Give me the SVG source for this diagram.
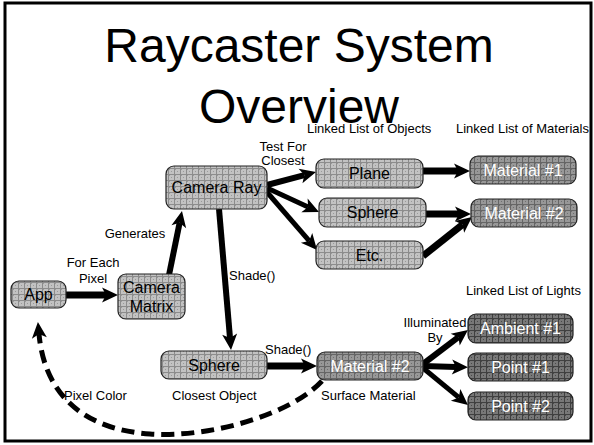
<svg xmlns="http://www.w3.org/2000/svg" width="594" height="445" viewBox="0 0 594 445">
<defs>
<pattern id="pL" width="6" height="6" patternUnits="userSpaceOnUse">
<rect width="6" height="6" fill="#c2c2c2"/>
<rect x="1" y="1" width="1" height="1" fill="#9a9a9a"/><rect x="3" y="3" width="1" height="1" fill="#9a9a9a"/>
<path d="M0,0.5H6M0.5,0V6" stroke="#8c8c8c" stroke-width="1"/>
</pattern>
<pattern id="pM" width="6" height="6" patternUnits="userSpaceOnUse">
<rect width="6" height="6" fill="#989898"/>
<rect x="1" y="1" width="1" height="1" fill="#707070"/><rect x="3" y="3" width="1" height="1" fill="#707070"/>
<path d="M0,0.5H6M0.5,0V6" stroke="#666" stroke-width="1"/>
</pattern>
<pattern id="pD" width="6" height="6" patternUnits="userSpaceOnUse">
<rect width="6" height="6" fill="#787878"/>
<rect x="1" y="1" width="1" height="1" fill="#4a4a4a"/><rect x="3" y="3" width="1" height="1" fill="#4a4a4a"/>
<path d="M0,0.5H6M0.5,0V6" stroke="#404040" stroke-width="1"/>
</pattern>
<marker id="ah" markerUnits="userSpaceOnUse" markerWidth="30" markerHeight="30" viewBox="-10 -15 30 30" refX="0" refY="0" orient="auto" overflow="visible">
<path d="M-4,-7.5 L12,0 L-4,7.5 L0,0 Z" fill="#000"/>
</marker>
</defs>
<style>
.t{font-family:"Liberation Sans",Arial,sans-serif;fill:#000}
.title{font-size:48px;text-anchor:middle}
.lbl{font-size:13px}
.c{text-anchor:middle}
.nt{font-size:16px;text-anchor:middle}
.w{fill:#fff}
.n{stroke:#222;stroke-width:1.2}
.L{fill:url(#pL)}
.M{fill:url(#pM)}
.D{fill:url(#pD)}
.e{stroke:#000;fill:none;marker-end:url(#ah)}
</style>
<rect x="5" y="3" width="586" height="438" fill="#fff" stroke="#000" stroke-width="3"/>
<text class="t title" x="299" y="62">Raycaster System</text>
<text class="t title" x="299" y="123">Overview</text>

<g id="labels">
<text class="t lbl" x="307" y="133">Linked List of Objects</text>
<text class="t lbl" x="456" y="133">Linked List of Materials</text>
<text class="t lbl c" x="283" y="151">Test For</text>
<text class="t lbl c" x="283" y="165">Closest</text>
<text class="t lbl c" x="135" y="238">Generates</text>
<text class="t lbl c" x="93" y="267">For Each</text>
<text class="t lbl c" x="93" y="283">Pixel</text>
<text class="t lbl" x="229" y="280">Shade()</text>
<text class="t lbl" x="265" y="354">Shade()</text>
<text class="t lbl" x="466" y="295">Linked List of Lights</text>
<text class="t lbl c" x="435" y="327">Illuminated</text>
<text class="t lbl c" x="435" y="342">By</text>
<text class="t lbl" x="64" y="400">Pixel Color</text>
<text class="t lbl" x="172" y="400">Closest Object</text>
<text class="t lbl" x="321" y="400">Surface Material</text>
</g>

<g id="connectors">
<line class="e" x1="66" y1="295" x2="106" y2="295" stroke-width="7"/>
<line class="e" x1="169" y1="275" x2="179.6" y2="222.8" stroke-width="6"/>
<line class="e" x1="219" y1="209" x2="230" y2="338" stroke-width="6"/>
<line class="e" x1="267" y1="185" x2="304.4" y2="175.1" stroke-width="6"/>
<line class="e" x1="267" y1="188" x2="308.1" y2="207" stroke-width="5"/>
<line class="e" x1="266" y1="191" x2="309.2" y2="240.9" stroke-width="5"/>
<line class="e" x1="423" y1="171" x2="458" y2="171" stroke-width="7"/>
<line class="e" x1="426" y1="214" x2="459" y2="214" stroke-width="7"/>
<line class="e" x1="423" y1="256" x2="462.6" y2="224.5" stroke-width="7"/>
<line class="e" x1="267" y1="366" x2="305" y2="366" stroke-width="7"/>
<line class="e" x1="423" y1="364" x2="458.4" y2="337.2" stroke-width="6"/>
<line class="e" x1="423" y1="366" x2="456" y2="367" stroke-width="6"/>
<line class="e" x1="423" y1="368" x2="458.7" y2="397.4" stroke-width="5"/>
<path class="e" d="M322,381 C290,415 210,438 150,434 C90,430 45,400 39,334" stroke-width="5" stroke-dasharray="13,7"/>
</g>

<g id="app"><rect class="n L" x="11" y="281" width="55" height="27" rx="8"/><text class="t nt" x="38.5" y="300">App</text></g>
<g id="camera-matrix"><rect class="n L" x="118" y="274" width="67" height="45" rx="8"/><text class="t nt" x="151.5" y="293">Camera</text><text class="t nt" x="151.5" y="312">Matrix</text></g>
<g id="camera-ray"><rect class="n L" x="166" y="166" width="101" height="43" rx="8"/><text class="t nt" x="216.5" y="193">Camera Ray</text></g>
<g id="plane"><rect class="n L" x="316" y="159" width="107" height="29" rx="8"/><text class="t nt" x="369.5" y="179">Plane</text></g>
<g id="sphere-list"><rect class="n L" x="319" y="198" width="107" height="29" rx="8"/><text class="t nt" x="372.5" y="218">Sphere</text></g>
<g id="etc"><rect class="n L" x="316" y="241" width="107" height="28" rx="8"/><text class="t nt" x="369.5" y="261">Etc.</text></g>
<g id="material1"><rect class="n M" x="470" y="156" width="106" height="28" rx="8"/><text class="t nt w" x="523" y="176">Material #1</text></g>
<g id="material2-list"><rect class="n M" x="471" y="199" width="106" height="28" rx="8"/><text class="t nt w" x="524" y="219">Material #2</text></g>
<g id="sphere-closest"><rect class="n L" x="161" y="351" width="106" height="28" rx="8"/><text class="t nt" x="214" y="371">Sphere</text></g>
<g id="material2-surface"><rect class="n M" x="317" y="352" width="106" height="28" rx="8"/><text class="t nt w" x="370" y="372">Material #2</text></g>
<g id="ambient1"><rect class="n D" x="468" y="314" width="105" height="29" rx="8"/><text class="t nt w" x="520.5" y="334">Ambient #1</text></g>
<g id="point1"><rect class="n D" x="468" y="353" width="105" height="28" rx="8"/><text class="t nt w" x="520.5" y="373">Point #1</text></g>
<g id="point2"><rect class="n D" x="468" y="392" width="105" height="28" rx="8"/><text class="t nt w" x="520.5" y="412">Point #2</text></g>
</svg>
